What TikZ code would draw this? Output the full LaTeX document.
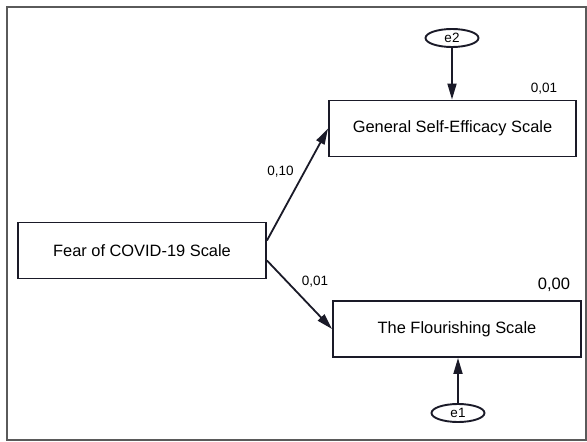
\documentclass[tikz,border=0pt]{standalone}
\usepackage{fontspec}
\setmainfont{Liberation Sans}
\usetikzlibrary{arrows.meta,calc,shapes.geometric}
\definecolor{boxline}{HTML}{1A1A28}
\definecolor{frameline}{HTML}{5A5A5A}

\begin{document}
\begin{tikzpicture}[x=1pt, y=-1pt, >={Triangle[length=16pt,width=9pt]},
    font=\fontsize{16.4}{19}\selectfont]
  \tikzset{
    var/.style={draw=boxline, line width=1.9pt, minimum height=56pt, inner sep=0pt},
    err/.style={ellipse, draw=boxline, line width=1.9pt, minimum width=53pt,
      minimum height=18pt, inner sep=0pt, font=\fontsize{13.5}{15}\selectfont},
    coef/.style={inner sep=0pt, font=\fontsize{13.5}{15}\selectfont},
    reg/.style={->, draw=boxline, line width=1.8pt}
  }
  \useasboundingbox (0,0) rectangle (587,442);
  % outer frame
  \draw[frameline, line width=2pt] (7,7) rectangle (586,440);
  % observed variables
  \node[var, minimum width=248pt] (fear) at (142,250.5) {Fear of COVID-19 Scale};
  \node[var, minimum width=247pt] (gse) at (452.5,128.5) {General Self-Efficacy Scale};
  \node[var, minimum width=248pt] (flour) at (457,329) {The Flourishing Scale};
  % error terms
  \node[err] (e2) at (452,38) {e2};
  \node[err] (e1) at (458,413) {e1};
  % paths
  \draw[reg] ($(fear.east)+(0,-10)$) -- (gse.west);
  \draw[reg] ($(fear.east)+(0,10)$) -- (flour.west);
  \draw[reg] (e2.south) -- (e2.south |- gse.north);
  \draw[reg] (e1.north) -- (e1.north |- flour.south);
  % estimates
  \node[coef] (b1) at (280.5,172) {0,10};
  \node[coef] (b2) at (315,282) {0,01};
  \node[coef] (r2gse) at (544,88.5) {0,01};
  \node[coef, font=\fontsize{16.5}{18}\selectfont] (r2flour) at (554,285) {0,00};
\end{tikzpicture}
\end{document}
